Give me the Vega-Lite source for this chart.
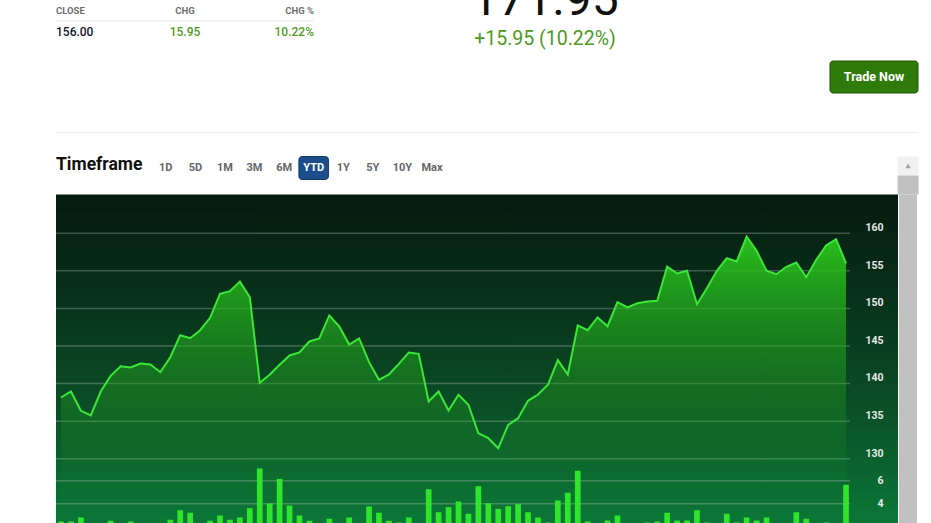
{
  "$schema": "https://vega.github.io/schema/vega-lite/v6.json",
  "background": "#ffffff",
  "padding": {"left": 55, "top": 0, "right": 14, "bottom": 0},
  "config": {"font": "Roboto", "view": {"stroke": null}},
  "datasets": {
    "prices": [
      {"i":0,"price":138.15,"vol":2.46},{"i":1,"price":138.95,"vol":2.46},{"i":2,"price":136.38,"vol":2.81},{"i":3,"price":135.76,"vol":2.32},
      {"i":4,"price":138.95,"vol":2.2},{"i":5,"price":141.04,"vol":2.52},{"i":6,"price":142.31,"vol":2.26},{"i":7,"price":142.14,"vol":2.46},
      {"i":8,"price":142.67,"vol":2.0},{"i":9,"price":142.54,"vol":2.32},{"i":10,"price":141.52,"vol":1.9},{"i":11,"price":143.51,"vol":2.61},
      {"i":12,"price":146.44,"vol":3.45},{"i":13,"price":146.04,"vol":3.22},{"i":14,"price":147.1,"vol":2.26},{"i":15,"price":148.75,"vol":2.52},
      {"i":16,"price":151.94,"vol":2.98},{"i":17,"price":152.29,"vol":2.61},{"i":18,"price":153.58,"vol":2.81},{"i":19,"price":151.49,"vol":3.62},
      {"i":20,"price":140.1,"vol":7.07},{"i":21,"price":141.17,"vol":4.03},{"i":22,"price":142.5,"vol":6.17},{"i":23,"price":143.74,"vol":3.85},
      {"i":24,"price":144.14,"vol":2.98},{"i":25,"price":145.6,"vol":2.52},{"i":26,"price":146.0,"vol":2.29},{"i":27,"price":149.06,"vol":2.7},
      {"i":28,"price":147.6,"vol":2.26},{"i":29,"price":145.2,"vol":2.81},{"i":30,"price":146.0,"vol":2.32},{"i":31,"price":142.85,"vol":3.77},
      {"i":32,"price":140.5,"vol":3.22},{"i":33,"price":141.21,"vol":2.52},{"i":34,"price":142.63,"vol":2.37},{"i":35,"price":144.14,"vol":2.81},
      {"i":36,"price":143.96,"vol":2.0},{"i":37,"price":137.62,"vol":5.27},{"i":38,"price":138.95,"vol":3.27},{"i":39,"price":136.42,"vol":3.71},
      {"i":40,"price":138.51,"vol":4.2},{"i":41,"price":137.18,"vol":3.13},{"i":42,"price":133.4,"vol":5.53},{"i":43,"price":132.74,"vol":4.05},
      {"i":44,"price":131.41,"vol":3.56},{"i":45,"price":134.52,"vol":3.79},{"i":46,"price":135.4,"vol":3.97},{"i":47,"price":137.71,"vol":3.27},
      {"i":48,"price":138.55,"vol":2.81},{"i":49,"price":139.84,"vol":2.37},{"i":50,"price":143.11,"vol":4.29},{"i":51,"price":141.21,"vol":4.96},
      {"i":52,"price":147.73,"vol":6.87},{"i":53,"price":147.1,"vol":2.46},{"i":54,"price":148.79,"vol":2.29},{"i":55,"price":147.63,"vol":2.55},
      {"i":56,"price":150.82,"vol":2.98},{"i":57,"price":150.12,"vol":1.9},{"i":58,"price":150.69,"vol":2.32},{"i":59,"price":150.92,"vol":2.37},
      {"i":60,"price":151.01,"vol":2.46},{"i":61,"price":155.57,"vol":3.22},{"i":62,"price":154.64,"vol":2.55},{"i":63,"price":155.0,"vol":2.55},
      {"i":64,"price":150.56,"vol":3.45},{"i":65,"price":152.69,"vol":2.37},{"i":66,"price":155.0,"vol":1.9},{"i":67,"price":156.68,"vol":3.13},
      {"i":68,"price":156.24,"vol":2.37},{"i":69,"price":159.56,"vol":2.81},{"i":70,"price":157.66,"vol":2.55},{"i":71,"price":155.0,"vol":2.81},
      {"i":72,"price":154.55,"vol":1.8},{"i":73,"price":155.53,"vol":1.9},{"i":74,"price":156.1,"vol":3.27},{"i":75,"price":154.15,"vol":2.7},
      {"i":76,"price":156.46,"vol":2.29},{"i":77,"price":158.36,"vol":2.37},{"i":78,"price":159.2,"vol":2.32},{"i":79,"price":156.0,"vol":5.65}
    ]
  },
  "spacing": 23.5,
  "vconcat": [
    {
      "spacing": 0,
      "vconcat": [
        {
          "spacing": 30,
          "hconcat": [
            {
              "width": 258,
              "height": 42,
              "data": {"values": [
                {"row":"header","metric":"CLOSE","text":"CLOSE"},
                {"row":"header","metric":"CHG","text":"CHG"},
                {"row":"header","metric":"CHG %","text":"CHG %"},
                {"row":"value","metric":"CLOSE","text":"156.00"},
                {"row":"value","metric":"CHG","text":"15.95"},
                {"row":"value","metric":"CHG %","text":"10.22%"}
              ]},
              "layer": [
                {
                  "transform": [{"filter": "datum.row === 'value' && datum.metric === 'CLOSE'"}],
                  "mark": {"type": "rule", "color": "#e6ebf0", "strokeWidth": 1},
                  "encoding": {
                    "x": {"datum": "CLOSE", "type": "nominal", "scale": {"type": "point", "domain": ["CLOSE","CHG","CHG %"], "padding": 0}, "axis": null},
                    "x2": {"datum": "CHG %"},
                    "y": {"field": "row", "type": "nominal", "bandPosition": 0, "scale": {"type": "band", "domain": ["header","value"], "padding": 0}, "axis": null}
                  }
                },
                {
                  "mark": {
                    "type": "text",
                    "baseline": "middle",
                    "align": {"expr": "datum.metric === 'CLOSE' ? 'left' : (datum.metric === 'CHG' ? 'center' : 'right')"},
                    "fontWeight": {"expr": "datum.row === 'header' ? 'bold' : 500"}
                  },
                  "encoding": {
                    "x": {"field": "metric", "type": "nominal", "scale": {"type": "point", "domain": ["CLOSE","CHG","CHG %"], "padding": 0}, "axis": null},
                    "y": {"field": "row", "type": "nominal", "scale": {"type": "band", "domain": ["header","value"], "padding": 0}, "axis": null},
                    "text": {"field": "text"},
                    "size": {"condition": {"test": "datum.row === 'header'", "value": 9.5}, "value": 12},
                    "color": {"condition": [{"test": "datum.row === 'header'", "value": "#6e6e6e"}, {"test": "datum.metric === 'CLOSE'", "value": "#14142b"}], "value": "#4f9c1c"}
                  }
                }
              ]
            },
            {
              "width": 400,
              "height": 60,
              "data": {"values": [{"kind":"price","text":"171.95"},{"kind":"change","text":"+15.95 (10.22%)"}]},
              "mark": {"type": "text", "baseline": "alphabetic", "clip": true},
              "encoding": {
                "y": {"field": "kind", "type": "nominal", "scale": {"type": "band", "domain": ["price","change"], "padding": 0}, "axis": null},
                "text": {"field": "text"},
                "size": {"condition": {"test": "datum.kind === 'price'", "value": 48}, "value": 19.5},
                "color": {"condition": {"test": "datum.kind === 'price'", "value": "#111111"}, "value": "#4d9a1b"}
              }
            }
          ]
        },
        {
          "width": 862,
          "height": 32,
          "data": {"values": [{"action": "Trade Now"}]},
          "encoding": {
            "x": {"field": "action", "type": "nominal",
                  "scale": {"type": "band", "paddingInner": 0.7726, "paddingOuter": 1, "align": 1},
                  "axis": {"orient": "bottom", "offset": 39, "labels": false, "ticks": false, "domain": true, "domainColor": "#eceff2", "domainWidth": 1, "grid": false, "title": null}}
          },
          "layer": [
            {"mark": {"type": "rect", "color": "#2e7b0c", "stroke": "#1d5807", "strokeWidth": 1, "cornerRadius": 3}},
            {"mark": {"type": "text", "color": "#ffffff", "fontSize": 12.5, "fontWeight": "bold"}, "encoding": {"text": {"field": "action"}}}
          ]
        }
      ]
    },
    {
      "spacing": 0,
      "vconcat": [
        {
          "spacing": 450.6,
          "hconcat": [
            {
              "spacing": 0,
              "hconcat": [
                {
                  "width": 94.6,
                  "height": 16,
                  "data": {"values": [{"section": "Timeframe"}]},
                  "mark": {"type": "text", "align": "left", "baseline": "middle", "fontSize": 17.5, "fontWeight": "bold", "color": "#111111"},
                  "encoding": {
                    "x": {"field": "section", "type": "nominal", "bandPosition": 0, "scale": {"type": "band", "padding": 0}, "axis": null},
                    "text": {"field": "section"}
                  }
                },
                {
                  "width": 295.8,
                  "height": 23,
                  "data": {"values": [{"tf":"1D"},{"tf":"5D"},{"tf":"1M"},{"tf":"3M"},{"tf":"6M"},{"tf":"YTD"},{"tf":"1Y"},{"tf":"5Y"},{"tf":"10Y"},{"tf":"Max"}]},
                  "encoding": {
                    "x": {"field": "tf", "type": "nominal", "scale": {"type": "band", "domain": ["1D","5D","1M","3M","6M","YTD","1Y","5Y","10Y","Max"], "padding": 0}, "axis": null}
                  },
                  "layer": [
                    {"transform": [{"filter": "datum.tf === 'YTD'"}], "mark": {"type": "rect", "color": "#1c4e8b", "stroke": "#123a6b", "strokeWidth": 1, "cornerRadius": 3}},
                    {"mark": {"type": "text", "fontSize": 11, "fontWeight": "bold", "baseline": "middle"},
                     "encoding": {"text": {"field": "tf"}, "color": {"condition": {"test": "datum.tf === 'YTD'", "value": "#ffffff"}, "value": "#666666"}}}
                  ]
                }
              ]
            },
            {
              "width": 21,
              "height": 38,
              "data": {"values": [{"part": "arrow"}, {"part": "thumb"}]},
              "encoding": {
                "y": {"field": "part", "type": "nominal", "scale": {"type": "band", "domain": ["arrow","thumb"], "padding": 0}, "axis": null}
              },
              "layer": [
                {"mark": {"type": "rect"}, "encoding": {"color": {"condition": {"test": "datum.part === 'arrow'", "value": "#f1f1f1"}, "value": "#c1c1c1"}}},
                {"transform": [{"filter": "datum.part === 'arrow'"}], "mark": {"type": "point", "shape": "triangle-up", "filled": true, "size": 30, "color": "#a3a3a3", "opacity": 1}}
              ]
            }
          ]
        },
        {
          "spacing": 1,
          "hconcat": [
            {
              "width": 842,
              "height": 330,
              "layer": [
                {
                  "layer": [
                    {
                      "data": {"values": [{"panel": "chart background"}]},
                      "mark": {"type": "rect", "color": {"gradient": "linear", "x1": 0, "y1": 0, "x2": 0, "y2": 1,
                        "stops": [{"offset": 0, "color": "#051a0f"}, {"offset": 0.3, "color": "#08301a"}, {"offset": 0.65, "color": "#0a4f26"}, {"offset": 1, "color": "#0b7838"}]}},
                      "encoding": {
                        "x": {"datum": -0.503, "type": "quantitative", "scale": {"domain": [-0.503, 84.23], "nice": false, "zero": false, "padding": 0}, "axis": null},
                        "x2": {"datum": 84.23},
                        "y": {"datum": 121.263, "type": "quantitative", "scale": {"domain": [121.263, 165.146], "nice": false, "zero": false, "padding": 0}},
                        "y2": {"datum": 165.146}
                      }
                    },
                    {
                      "data": {"values": [{"level":130},{"level":135},{"level":140},{"level":145},{"level":150},{"level":155},{"level":160}]},
                      "mark": {"type": "rule", "color": "rgba(215,215,215,0.28)", "strokeWidth": 1.5},
                      "encoding": {
                        "x": {"datum": -0.503, "type": "quantitative", "scale": {"domain": [-0.503, 84.23], "nice": false, "zero": false, "padding": 0}, "axis": null},
                        "x2": {"datum": 79.4},
                        "y": {"field": "level", "type": "quantitative", "scale": {"domain": [121.263, 165.146], "nice": false, "zero": false, "padding": 0},
                              "axis": {"orient": "right", "values": [130,135,140,145,150,155,160], "offset": -15, "labelAlign": "right", "labelPadding": 0, "labelOffset": -5.7,
                                       "ticks": false, "domain": false, "grid": false, "labelColor": "#e8e8e8", "labelFontSize": 10.5, "labelFontWeight": "bold",
                                       "labelFlush": false, "labelOverlap": false, "labelBound": false, "title": null, "zindex": 2}}
                      }
                    },
                    {
                      "data": {"name": "prices"},
                      "mark": {"type": "area", "color": {"gradient": "linear", "x1": 0, "y1": 0, "x2": 0, "y2": 1,
                        "stops": [{"offset": 0, "color": "rgba(42,200,28,0.95)"}, {"offset": 0.25, "color": "rgba(38,180,28,0.7)"}, {"offset": 0.55, "color": "rgba(34,160,30,0.38)"}, {"offset": 0.8, "color": "rgba(30,145,35,0.12)"}, {"offset": 1, "color": "rgba(30,140,40,0)"}]}},
                      "encoding": {
                        "x": {"field": "i", "type": "quantitative", "scale": {"domain": [-0.503, 84.23], "nice": false, "zero": false, "padding": 0}, "axis": null},
                        "y": {"field": "price", "type": "quantitative", "stack": null, "scale": {"domain": [121.263, 165.146], "nice": false, "zero": false, "padding": 0}},
                        "y2": {"datum": 121.263}
                      }
                    },
                    {
                      "data": {"name": "prices"},
                      "mark": {"type": "line", "color": "#3ae637", "strokeWidth": 2},
                      "encoding": {
                        "x": {"field": "i", "type": "quantitative", "scale": {"domain": [-0.503, 84.23], "nice": false, "zero": false, "padding": 0}, "axis": null},
                        "y": {"field": "price", "type": "quantitative", "scale": {"domain": [121.263, 165.146], "nice": false, "zero": false, "padding": 0}}
                      }
                    }
                  ]
                },
                {
                  "layer": [
                    {
                      "data": {"values": [{"level":4},{"level":6}]},
                      "mark": {"type": "rule", "color": "rgba(215,215,215,0.28)", "strokeWidth": 1.5},
                      "encoding": {
                        "x": {"datum": -0.503, "type": "quantitative", "scale": {"domain": [-0.503, 84.23], "nice": false, "zero": false, "padding": 0}, "axis": null},
                        "x2": {"datum": 79.4},
                        "y": {"field": "level", "type": "quantitative", "scale": {"domain": [2.2, 30.896], "nice": false, "zero": false, "padding": 0},
                              "axis": {"orient": "right", "values": [4,6], "offset": -15, "labelAlign": "right", "labelPadding": 0,
                                       "ticks": false, "domain": false, "grid": false, "labelColor": "#e8e8e8", "labelFontSize": 10.5, "labelFontWeight": "bold",
                                       "labelFlush": false, "labelOverlap": false, "labelBound": false, "title": null, "zindex": 2}}
                      }
                    },
                    {
                      "data": {"name": "prices"},
                      "mark": {"type": "bar", "color": "#2fe52b", "width": 5.7, "clip": true, "orient": "vertical"},
                      "encoding": {
                        "x": {"field": "i", "type": "quantitative", "scale": {"domain": [-0.503, 84.23], "nice": false, "zero": false, "padding": 0}, "axis": null},
                        "y": {"field": "vol", "type": "quantitative", "stack": null, "scale": {"domain": [2.2, 30.896], "nice": false, "zero": false, "padding": 0}}
                      }
                    }
                  ]
                }
              ],
              "resolve": {"scale": {"y": "independent"}, "axis": {"y": "independent"}}
            },
            {
              "width": 18,
              "height": 330,
              "data": {"values": [{"part": "thumb"}]},
              "mark": {"type": "rect", "color": "#c1c1c1"},
              "encoding": {}
            }
          ]
        }
      ]
    }
  ]
}
